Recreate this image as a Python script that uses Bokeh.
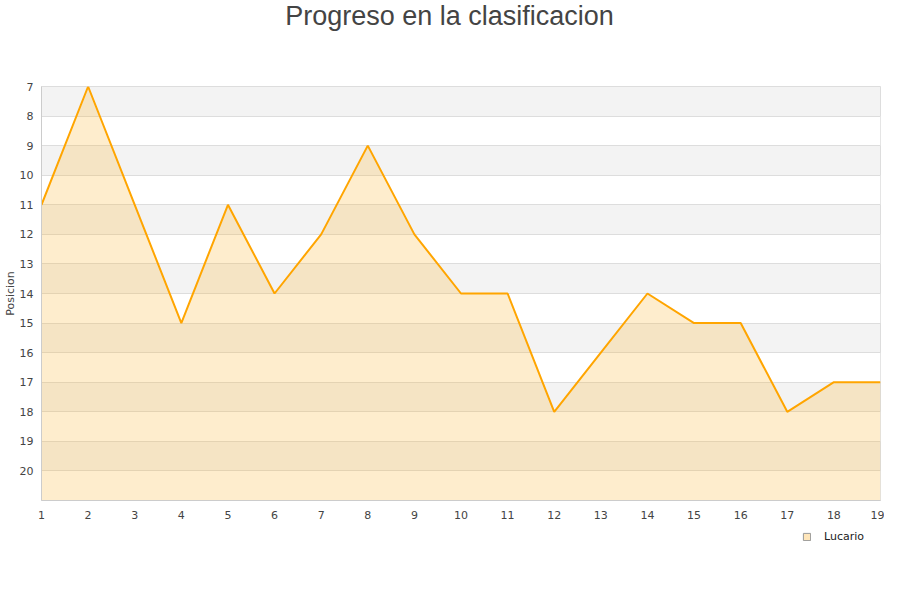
from bokeh.plotting import figure
from bokeh.layouts import column
from bokeh.models import Range1d, FixedTicker, Legend, LegendItem, ColumnDataSource, Label
from bokeh.embed import file_html
from bokeh.resources import INLINE

# Datos del progreso
jornadas = list(range(1, 20))
posicion = [11, 7, 11, 15, 11, 14, 12, 9, 12, 14, 14, 18, 16, 14, 15, 15, 18, 17, 17]
ticks_y = list(range(7, 21))
fondo = 21
titulo = "Progreso en la clasificacion"

source = ColumnDataSource(data=dict(x=jornadas, y=posicion, base=[fondo] * len(jornadas)))

# franja superior con el titulo
t = figure(width=884, height=40, output_backend="svg", toolbar_location=None,
           x_axis_type=None, y_axis_type=None, min_border=0)
t.outline_line_color = None
t.xgrid.visible = False
t.ygrid.visible = False
t.add_layout(Label(x=408, y=25, x_units="screen", y_units="screen", text=titulo,
                   text_align="center", text_baseline="middle",
                   text_font="Liberation Sans", text_font_size="27px", text_color="#444444"))

p = figure(width=884, height=485, output_backend="svg", toolbar_location=None,
           x_range=Range1d(1, 19), y_range=Range1d(fondo, 7),
           min_border_left=40, min_border_right=4, min_border_top=46, min_border_bottom=25)

p.outline_line_color = "#dddddd"
# fondo gris y bandas blancas: quedan grises 7-8, 9-10, ...
p.background_fill_color = "#f3f3f3"
p.border_fill_color = "white"

p.xgrid.visible = False
p.ygrid.grid_line_color = "#dddddd"
p.ygrid.band_fill_color = "white"
p.ygrid.band_fill_alpha = 1.0

for ax in (p.xaxis[0], p.yaxis[0]):
    ax.major_tick_line_color = None
    ax.minor_tick_line_color = None
    ax.axis_line_color = "#cccccc"
    ax.major_label_text_font = "DejaVu Sans"
    ax.major_label_text_font_size = "11px"
    ax.major_label_text_color = "#444444"

p.xaxis.ticker = FixedTicker(ticks=jornadas)
p.yaxis.ticker = FixedTicker(ticks=ticks_y)
p.yaxis.axis_label = "Posicion"
p.yaxis.axis_label_text_font = "DejaVu Sans"
p.yaxis.axis_label_text_font_size = "11px"
p.yaxis.axis_label_text_font_style = "normal"
p.yaxis.axis_label_text_color = "#444444"
p.yaxis.axis_label_standoff = 0
p.yaxis.major_label_standoff = 2
p.xaxis.major_label_standoff = 4

p.varea(x="x", y1="y", y2="base", source=source, fill_color="#fab836", fill_alpha=0.25)
p.line(x="x", y="y", source=source, line_color="#ffa500", line_width=2)

# franja inferior con la leyenda
q = figure(width=884, height=59, output_backend="svg", toolbar_location=None,
           x_axis_type=None, y_axis_type=None, min_border=0)
q.outline_line_color = None
q.xgrid.visible = False
q.ygrid.visible = False
muestra = q.quad(left="x", right="x", bottom="y", top="y", source=source,
                 fill_color="#ffe6ba", line_color="#999999", line_width=1, visible=False)

legend = Legend(items=[LegendItem(label="Lucario", renderers=[muestra])],
                location=(761, 41), orientation="horizontal",
                glyph_width=9, glyph_height=9, label_standoff=13,
                padding=2, spacing=0, margin=0,
                border_line_color=None, background_fill_alpha=0,
                inactive_fill_alpha=0,
                label_text_font="DejaVu Sans", label_text_font_size="11px",
                label_text_color="#222222")
q.add_layout(legend, "center")

open("out.html", "w").write(file_html(column(t, p, q), INLINE))
